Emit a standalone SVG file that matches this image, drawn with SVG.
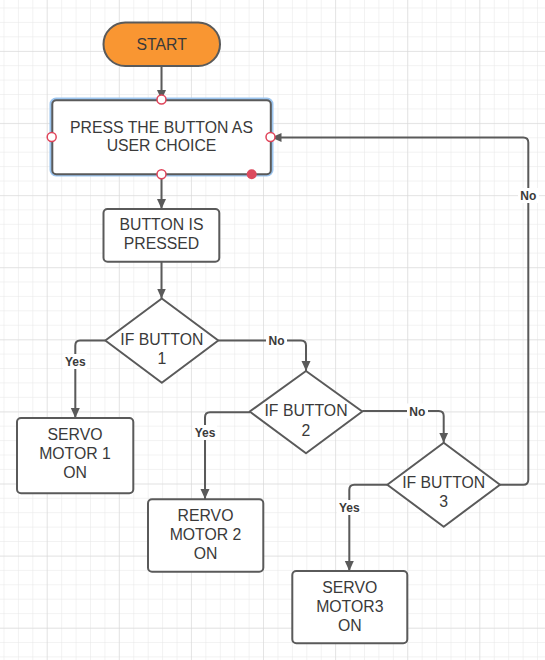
<svg xmlns="http://www.w3.org/2000/svg" width="545" height="660" viewBox="0 0 545 660">
<defs>
<pattern id="minor" x="3.5" y="7.5" width="14.42" height="14.42" patternUnits="userSpaceOnUse">
<path d="M0,0 H14.42 M0,0 V14.42" fill="none" stroke="#e6e6e6" stroke-width="1"/>
</pattern>
<pattern id="major" x="46.7" y="51" width="72.1" height="72.1" patternUnits="userSpaceOnUse">
<path d="M0,0 H72.1 M0,0 V72.1" fill="none" stroke="#d6d6d6" stroke-width="1"/>
</pattern>
<marker id="arr" viewBox="0 0 10 10" refX="10" refY="5" markerWidth="10" markerHeight="10" markerUnits="userSpaceOnUse" orient="auto">
<path d="M0,0.5 L10,5 L0,9.5 z" fill="#5a5a5a"/>
</marker>
</defs>
<style>
.node{fill:#fff;stroke:#5a5a5a;stroke-width:2}
.t{font-family:"Liberation Sans",Arial,sans-serif;font-size:15.8px;fill:#3a3a3a;text-anchor:middle}
.lbl{font-family:"Liberation Sans",Arial,sans-serif;font-size:12px;font-weight:bold;fill:#3a3a3a;text-anchor:middle}
.c{fill:none;stroke:#5a5a5a;stroke-width:2;stroke-linejoin:round}
.lb{fill:#fff}
.pt{fill:#fff;stroke:#e0445a;stroke-width:1.5}
</style>
<rect width="545" height="660" fill="#fff"/>
<rect width="545" height="660" fill="url(#minor)"/>
<rect width="545" height="660" fill="url(#major)"/>

<g id="connectors">
<path class="c" d="M161.5,66 V100" marker-end="url(#arr)"/>
<path class="c" d="M161.5,174 V209" marker-end="url(#arr)"/>
<path class="c" d="M161.5,262 V298.5" marker-end="url(#arr)"/>
<path class="c" d="M105.5,340.5 H80 Q75.3,340.5 75.3,345.5 V418" marker-end="url(#arr)"/>
<path class="c" d="M218.3,340.5 H301 Q306,340.5 306,345.5 V371" marker-end="url(#arr)"/>
<path class="c" d="M250,412.3 H210 Q205,412.3 205,417.3 V499" marker-end="url(#arr)"/>
<path class="c" d="M362.3,411 H438.7 Q443.7,411 443.7,416 V442.7" marker-end="url(#arr)"/>
<path class="c" d="M387.3,484.7 H354.3 Q349.3,484.7 349.3,489.7 V571" marker-end="url(#arr)"/>
<path class="c" d="M500,484.7 H523.3 Q528.3,484.7 528.3,479.7 V142.5 Q528.3,137.5 523.3,137.5 H271.5" marker-end="url(#arr)"/>
<g id="labels">
<rect class="lb" x="63" y="354" width="24" height="15"/>
<text class="lbl" x="75.3" y="366">Yes</text>
<rect class="lb" x="266" y="333" width="21" height="15"/>
<text class="lbl" x="276.5" y="345">No</text>
<rect class="lb" x="193" y="425" width="24" height="15"/>
<text class="lbl" x="205" y="437">Yes</text>
<rect class="lb" x="407" y="403.5" width="21" height="15"/>
<text class="lbl" x="417.3" y="415.5">No</text>
<rect class="lb" x="337" y="500" width="24" height="15"/>
<text class="lbl" x="349.3" y="512">Yes</text>
<rect class="lb" x="518" y="188" width="21" height="15"/>
<text class="lbl" x="528.3" y="200">No</text>
</g>
</g>

<g id="start">
<rect x="103.5" y="22.5" width="116.5" height="43.5" rx="21.75" fill="#f99632" stroke="#5a5a5a" stroke-width="2"/>
<text class="t" x="161.7" y="49.5">START</text>
</g>

<g id="press">
<rect x="51" y="99" width="221" height="76" rx="5" fill="none" stroke="#9cc5ef" stroke-width="3"/>
<rect class="node" x="52.3" y="100.3" width="218.5" height="74" rx="4"/>
<text class="t" x="161.5" y="132.5">PRESS THE BUTTON AS</text>
<text class="t" x="161.5" y="151">USER CHOICE</text>
<circle class="pt" cx="161.5" cy="99.5" r="4.5"/>
<circle class="pt" cx="51.7" cy="137" r="4.5"/>
<circle class="pt" cx="270.5" cy="137" r="4.5"/>
<circle class="pt" cx="161.5" cy="174.3" r="4.5"/>
<circle cx="251.7" cy="174.3" r="5" fill="#dc4a5e"/>
</g>

<g id="pressed">
<rect class="node" x="103.5" y="209" width="115.8" height="52.7" rx="4"/>
<text class="t" x="161.5" y="229.8">BUTTON IS</text>
<text class="t" x="161.5" y="248.8">PRESSED</text>
</g>

<g id="if1">
<path class="node" d="M161.8,298.5 L218.3,340.5 L161.8,382.7 L105.3,340.5 Z" stroke-linejoin="round"/>
<text class="t" x="161.8" y="344.5">IF BUTTON</text>
<text class="t" x="161.8" y="363.5">1</text>
</g>

<g id="servo1">
<rect class="node" x="17" y="418" width="116.3" height="75.3" rx="4"/>
<text class="t" x="75" y="439.7">SERVO</text>
<text class="t" x="75" y="458.7">MOTOR 1</text>
<text class="t" x="75" y="477.7">ON</text>
</g>

<g id="if2">
<path class="node" d="M306,371 L362.3,411.5 L306,453.3 L249.7,411.5 Z" stroke-linejoin="round"/>
<text class="t" x="306" y="416">IF BUTTON</text>
<text class="t" x="306" y="435.5">2</text>
</g>

<g id="servo2">
<rect class="node" x="148" y="499.3" width="115.3" height="72.4" rx="4"/>
<text class="t" x="205.5" y="521.4">RERVO</text>
<text class="t" x="205.5" y="540.4">MOTOR 2</text>
<text class="t" x="205.5" y="559">ON</text>
</g>

<g id="if3">
<path class="node" d="M443.7,442.7 L500,484.7 L443.7,526.7 L387.3,484.7 Z" stroke-linejoin="round"/>
<text class="t" x="443.7" y="488">IF BUTTON</text>
<text class="t" x="443.7" y="507">3</text>
</g>

<g id="servo3">
<rect class="node" x="292.3" y="571" width="115" height="72.3" rx="4"/>
<text class="t" x="349.8" y="593">SERVO</text>
<text class="t" x="349.8" y="612.4">MOTOR3</text>
<text class="t" x="349.8" y="631">ON</text>
</g>
</svg>
